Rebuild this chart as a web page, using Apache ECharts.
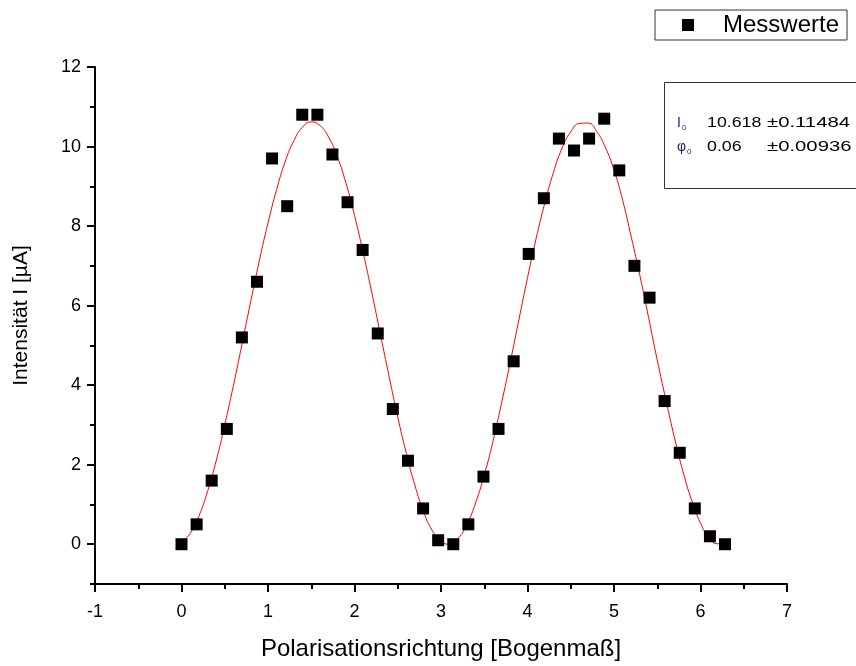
<!DOCTYPE html>
<html>
<head>
<meta charset="utf-8">
<script src="https://cdn.jsdelivr.net/npm/echarts@6/dist/echarts.min.js"></script>
<style>html,body{margin:0;padding:0;background:#fff;}#c{width:856px;height:666px;}</style>
</head>
<body>
<div id="c"></div>
<script>
// Measured points: polarisation direction (rad) and intensity (µA)
var measX = [0.000,0.175,0.349,0.524,0.698,0.873,1.047,1.222,1.396,1.571,1.745,1.920,2.094,2.269,2.443,2.618,2.793,2.967,3.142,3.316,3.491,3.665,3.840,4.014,4.189,4.363,4.538,4.712,4.887,5.061,5.236,5.411,5.585,5.760,5.934,6.109,6.283];
var measY = [0.0,0.5,1.6,2.9,5.2,6.6,9.7,8.5,10.8,10.8,9.8,8.6,7.4,5.3,3.4,2.1,0.9,0.1,0.0,0.5,1.7,2.9,4.6,7.3,8.7,10.2,9.9,10.2,10.7,9.4,7.0,6.2,3.6,2.3,0.9,0.2,0.0];
// Fit curve
var fitX = [0.0,0.1,0.2,0.3,0.4,0.5,0.6,0.7,0.8,0.9,1.0,1.1,1.2,1.3,1.4,1.5,1.6,1.7,1.8,1.9,2.0,2.1,2.2,2.3,2.4,2.5,2.6,2.7,2.8,2.9,3.0,3.1,3.2,3.3,3.4,3.5,3.6,3.7,3.8,3.9,4.0,4.1,4.2,4.3,4.4,4.5,4.6,4.7,4.8,4.9,5.0,5.1,5.2,5.3,5.4,5.5,5.6,5.7,5.8,5.9,6.0,6.1,6.2,6.283];
var fitY = [0.04,0.27,0.70,1.32,2.09,3.00,3.99,5.04,6.10,7.13,8.08,8.92,9.63,10.15,10.49,10.62,10.53,10.24,9.75,9.09,8.27,7.33,6.33,5.27,4.22,3.20,2.28,1.47,0.81,0.34,0.07,0.00,0.15,0.50,1.04,1.74,2.58,3.55,4.57,5.64,6.70,7.69,8.58,9.35,9.96,10.37,10.58,10.59,10.38,9.98,9.41,8.65,7.72,6.75,5.70,4.63,3.63,2.67,1.81,1.09,0.53,0.16,0.01,0.04];
var yMajorTicks = [0,2,4,6,8,10,12];
var yMinorTicks = [-1,1,3,5,7,9,11];
var fitParams = [
  {name: 'I', value: '10.618', err: '±0.11484'},
  {name: 'φ', value: '0.06', err: '±0.00936'}
];

var FONT = 'Liberation Sans, Arial, sans-serif';
var chart = echarts.init(document.getElementById('c'));

function zip(a, b) { return a.map(function (v, i) { return [v, b[i]]; }); }

var tickStyle = {color: '#000', width: 2};

var graphics = [
  {type: 'rect', shape: {x: 664.5, y: 82.5, width: 200, height: 106}, style: {fill: '#fff', stroke: '#333', lineWidth: 1}, z: 10}
];
fitParams.forEach(function (p, i) {
  var y = 123 + i * 24;
  graphics.push({type: 'text', x: 677, y: y, z: 11, style: {
    text: '{n|' + p.name + '}{s|0}', textVerticalAlign: 'middle',
    rich: {n: {fontFamily: FONT, fontSize: 14, fill: '#1f1f66'}, s: {fontFamily: FONT, fontSize: 8, fill: '#1f1f66', padding: [10, 0, 0, 1]}}
  }});
  graphics.push({type: 'text', x: 707, y: y, scaleX: 1.27, z: 11, style: {text: p.value, font: '14px ' + FONT, fill: '#000', textVerticalAlign: 'middle'}});
  graphics.push({type: 'text', x: 767, y: y, scaleX: 1.45, z: 11, style: {text: p.err, font: '14px ' + FONT, fill: '#000', textVerticalAlign: 'middle'}});
});

var hiddenLine = {show: false, onZero: false};
var shownLine = {show: true, onZero: false, lineStyle: {color: '#000', width: 2}};

chart.setOption({
  animation: false,
  backgroundColor: '#fff',
  grid: {left: 95, right: 69, top: 67, bottom: 80, containLabel: false},
  legend: {
    left: 655, top: 10,
    data: [{name: 'Messwerte', icon: 'rect'}],
    itemWidth: 12, itemHeight: 12,
    borderColor: '#333', borderWidth: 1, borderRadius: 0,
    padding: [3, 8, 3, 27],
    textStyle: {fontFamily: FONT, fontSize: 24, color: '#000', padding: [0, 0, 0, 24]}
  },
  xAxis: [{
    type: 'value', min: -1, max: 7, interval: 1,
    name: 'Polarisationsrichtung [Bogenmaß]', nameLocation: 'middle', nameGap: 53,
    nameTextStyle: {fontFamily: FONT, fontSize: 24, color: '#000'},
    axisLine: hiddenLine,
    axisTick: {show: true, length: 8, lineStyle: tickStyle},
    minorTick: {show: true, splitNumber: 2, length: 5, lineStyle: tickStyle},
    axisLabel: {fontFamily: FONT, fontSize: 18, color: '#000', margin: 19},
    splitLine: {show: false}
  }, {
    type: 'value', min: -1, max: 7, interval: 1, position: 'bottom',
    axisLine: shownLine, axisTick: {show: false}, axisLabel: {show: false}, splitLine: {show: false}
  }],
  yAxis: [{
    type: 'value', min: -1, max: 12, interval: 1, position: 'left',
    name: 'Intensität I [µA]', nameLocation: 'middle', nameGap: 63, nameRotate: 90,
    nameTextStyle: {fontFamily: FONT, fontSize: 21, color: '#000', padding: [0, 0, 0, 20]},
    axisLine: hiddenLine,
    axisTick: {show: true, length: 8, customValues: yMajorTicks, lineStyle: tickStyle},
    axisLabel: {fontFamily: FONT, fontSize: 18, color: '#000', margin: 14, customValues: yMajorTicks},
    splitLine: {show: false}
  }, {
    type: 'value', min: -1, max: 12, interval: 1, position: 'left',
    axisLine: hiddenLine,
    axisTick: {show: true, length: 5, customValues: yMinorTicks, lineStyle: tickStyle},
    axisLabel: {show: false},
    splitLine: {show: false}
  }, {
    type: 'value', min: -1, max: 12, interval: 1, position: 'left',
    axisLine: shownLine, axisTick: {show: false}, axisLabel: {show: false}, splitLine: {show: false}
  }],
  series: [{
    name: 'Fit', type: 'line', data: zip(fitX, fitY), smooth: true, showSymbol: false, symbol: 'none',
    lineStyle: {color: '#ff0000', width: 1}, z: 3, silent: true
  }, {
    name: 'Messwerte', type: 'scatter', data: zip(measX, measY), symbol: 'rect', symbolSize: 12,
    itemStyle: {color: '#000', opacity: 1}, z: 4
  }],
  graphic: graphics
});
</script>
</body>
</html>
